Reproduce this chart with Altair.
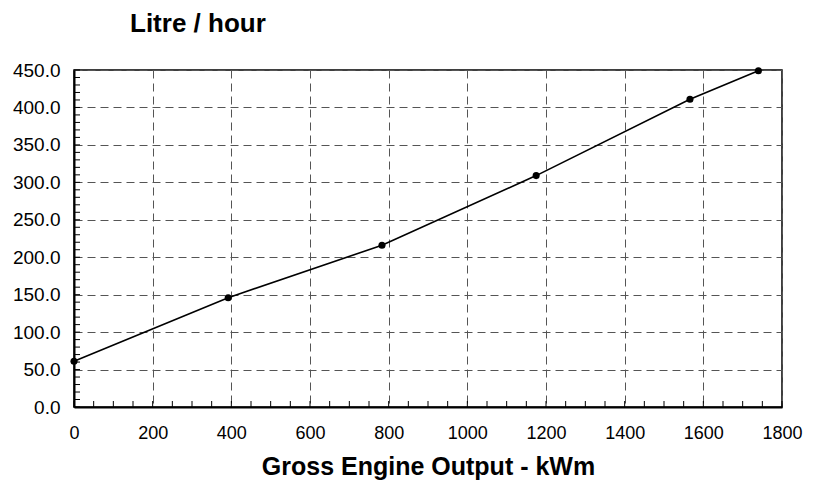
import altair as alt
import pandas as pd

# Data
output_kwm = [0, 392, 783, 1175, 1566, 1740]
litre_per_hour = [61, 146, 216, 309, 411, 449]

# Axis tick values
x_ticks = [0, 200, 400, 600, 800, 1000, 1200, 1400, 1600, 1800]
y_ticks = [0, 50, 100, 150, 200, 250, 300, 350, 400, 450]
x_minor = list(range(0, 1801, 50))
y_minor = list(range(0, 451, 10))

W, H = 708, 337
FONT = "Liberation Sans"

df = pd.DataFrame({"kwm": output_kwm, "lph": litre_per_hour})
xs = alt.Scale(domain=[0, 1800], nice=False, zero=False)
ys = alt.Scale(domain=[0, 450], nice=False, zero=False)

x_axis = alt.Axis(values=x_ticks, format="d", title="Gross Engine Output - kWm",
                  labelPadding=17, titlePadding=12, labelFontSize=18,
                  labelOverlap=False, titleFontSize=25)
y_axis = alt.Axis(values=y_ticks, format=".1f", title=None, labelPadding=14,
                  labelFontSize=19, labelOverlap=False)

line = alt.Chart(df).mark_line(color="black", strokeWidth=1.6).encode(
    x=alt.X("kwm:Q", scale=xs, axis=x_axis),
    y=alt.Y("lph:Q", scale=ys, axis=y_axis),
)

points = alt.Chart(df).mark_circle(color="black", size=50, opacity=1).encode(
    x=alt.X("kwm:Q", axis=x_axis), y=alt.Y("lph:Q", axis=y_axis))

y_minor_ticks = alt.Chart(pd.DataFrame({"lph": y_minor})).mark_rule(
    color="black", strokeWidth=1).encode(
    y=alt.Y("lph:Q", axis=y_axis), x=alt.value(0), x2=alt.value(6))

x_minor_ticks = alt.Chart(pd.DataFrame({"kwm": x_minor})).mark_rule(
    color="black", strokeWidth=1).encode(
    x=alt.X("kwm:Q", axis=x_axis), y=alt.value(H), y2=alt.value(H - 6))

chart = alt.layer(line, y_minor_ticks, x_minor_ticks, points).properties(
    width=W, height=H, background="white",
    title=alt.TitleParams("Litre / hour", anchor="start", frame="group", dx=56,
                          fontSize=26, font=FONT, fontWeight="bold", color="black",
                          baseline="alphabetic", offset=3),
    autosize=alt.AutoSizeParams(type="none"),
    padding={"left": 66, "top": 62, "right": 25, "bottom": 74},
).configure_view(
    stroke="black", strokeWidth=1.5
).configure_axis(
    labelFont=FONT, labelColor="black", labelOverlap=False,
    labelFlush=False, ticks=False, tickSize=0,
    domainColor="black", domainWidth=2,
    grid=True, gridColor="#555", gridDash=[8, 5], gridWidth=1,
    titleFont=FONT, titleFontWeight="bold", titleColor="black",
)

chart.save("out.html", embed_options={"renderer": "svg", "actions": False})
